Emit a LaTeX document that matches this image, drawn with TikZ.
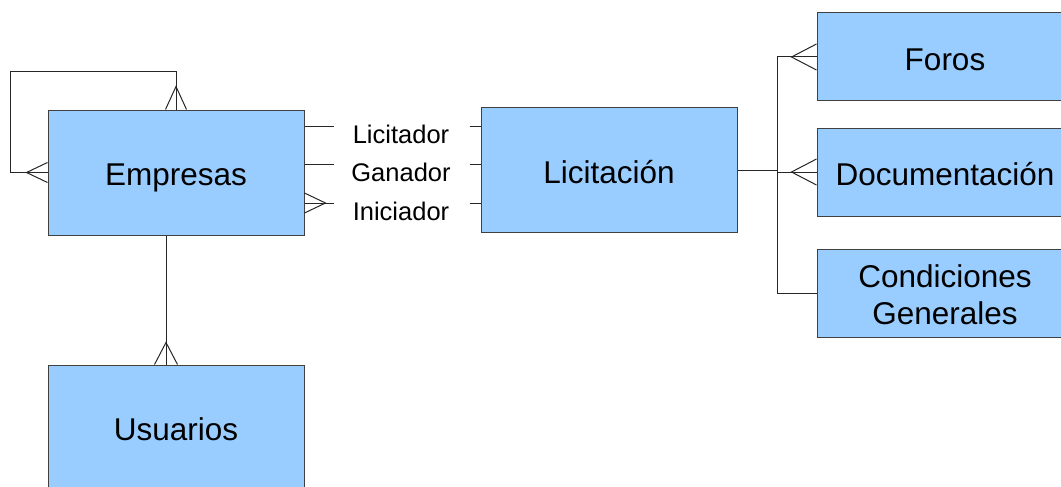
\documentclass[tikz,border=0pt]{standalone}
\usepackage{fontspec}
\setmainfont{Liberation Sans}
\usetikzlibrary{calc}
\definecolor{boxblue}{HTML}{99CCFF}
\begin{document}
\begin{tikzpicture}[x=1pt,y=-1pt,
  ent/.style={draw=black!75, fill=boxblue, line width=1pt, minimum width=256pt,
    inner sep=0pt, font=\fontsize{31.5}{37}\selectfont, align=center},
  oneline/.style={text height=26.5pt, text depth=0pt},
  twoline/.style={text height=63.6pt, text depth=0pt},
  conn/.style={line width=1pt, draw=black!85},
  lab/.style={font=\fontsize{25.5}{30}\selectfont, inner sep=0pt}]
\useasboundingbox (0,0) rectangle (1061,487);
\clip (0,0) rectangle (1061,487);

\node[ent, oneline, minimum height=125pt] (emp) at (176,172.5) {Empresas};
\node[ent, oneline, minimum height=124pt] (lic) at (609,170) {Licitación};
\node[ent, oneline, minimum height=125pt] (usu) at (176,427.5) {Usuarios};
\node[ent, oneline, minimum height=88pt] (foros) at (945,57) {Foros};
\node[ent, oneline, minimum height=88pt] (doc) at (945,172) {Documentación};
\node[ent, twoline, minimum height=88pt] (cond) at (945,293) {Condiciones\\Generales};

% self relation of Empresas
\draw[conn] (emp.north) -- ++(0,-38) -| ($(emp.west)+(-37,0)$) -- (emp.west);
\draw[conn] ($(emp.north)+(-10.5,0)$) -- ($(emp.north)+(0,-23)$) -- ($(emp.north)+(10.5,0)$);
\draw[conn] ($(emp.west)+(0,-10)$) -- ($(emp.west)+(-21,0)$) -- ($(emp.west)+(0,10)$);

% Empresas - Usuarios
\draw[conn] ($(emp.south)+(-10,0)$) -- ($(usu.north)+(-10,0)$);
\draw[conn] ($(usu.north)+(-21.5,0)$) -- ($(usu.north)+(-10,-22)$) -- ($(usu.north)+(1.5,0)$);

% Empresas - Licitacion relations
\node[lab] (l1) at (401,134) {Licitador};
\node[lab] (l2) at (401,172) {Ganador};
\node[lab] (l3) at (401,211) {Iniciador};
\draw[conn] ($(emp.east)+(0,-46.5)$) -- ++(29,0);
\draw[conn] ($(emp.east)+(0,-8.5)$) -- ++(29,0);
\draw[conn] ($(emp.east)+(0,30.5)$) -- ++(29,0);
\draw[conn] ($(emp.east)+(0,20.5)$) -- ($(emp.east)+(21,30.5)$) -- ($(emp.east)+(0,40.5)$);
\draw[conn] ($(lic.west)+(-11,-44)$) -- ($(lic.west)+(0,-44)$);
\draw[conn] ($(lic.west)+(-11,-6)$) -- ($(lic.west)+(0,-6)$);
\draw[conn] ($(lic.west)+(-11,33)$) -- ($(lic.west)+(0,33)$);

% Licitacion - right entities
\coordinate (j) at ($(lic.east)+(40,0)$);
\draw[conn] (lic.east) -- (j);
\draw[conn] (j) |- (foros.west);
\draw[conn] (j) |- (doc.west);
\draw[conn] (j) |- (cond.west);
\draw[conn] ($(foros.west)+(0,-13)$) -- ($(foros.west)+(-25,0)$) -- ($(foros.west)+(0,13)$);
\draw[conn] ($(doc.west)+(0,-13)$) -- ($(doc.west)+(-25,0)$) -- ($(doc.west)+(0,13)$);
\end{tikzpicture}
\end{document}
